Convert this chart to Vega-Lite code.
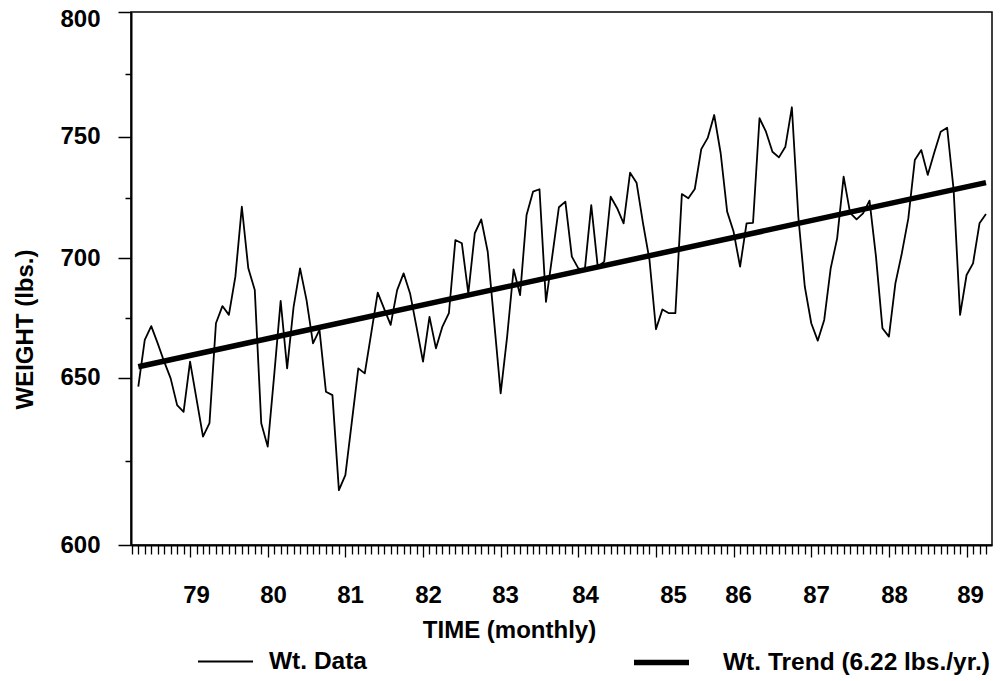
{
  "$schema": "https://vega.github.io/schema/vega-lite/v6.json",
  "width": 861,
  "height": 533,
  "autosize": {"type": "none"},
  "padding": {"left": 131, "top": 12, "right": 11, "bottom": 136},
  "background": "white",
  "config": {"view": {"stroke": "black", "strokeWidth": 1.5}, "font": "Liberation Sans"},
  "data": {"values": [
    {"month":0,"weight":647.3,"series":"Wt. Data"},{"month":1,"weight":665.8,"series":"Wt. Data"},{"month":2,"weight":671.6,"series":"Wt. Data"},{"month":3,"weight":664.4,"series":"Wt. Data"},{"month":4,"weight":656.7,"series":"Wt. Data"},{"month":5,"weight":649.8,"series":"Wt. Data"},{"month":6,"weight":641.8,"series":"Wt. Data"},{"month":7,"weight":639.8,"series":"Wt. Data"},{"month":8,"weight":656.7,"series":"Wt. Data"},{"month":9,"weight":643.6,"series":"Wt. Data"},
    {"month":10,"weight":632.4,"series":"Wt. Data"},{"month":11,"weight":636.4,"series":"Wt. Data"},{"month":12,"weight":672.8,"series":"Wt. Data"},{"month":13,"weight":680.0,"series":"Wt. Data"},{"month":14,"weight":676.3,"series":"Wt. Data"},{"month":15,"weight":692.3,"series":"Wt. Data"},{"month":16,"weight":721.2,"series":"Wt. Data"},{"month":17,"weight":695.8,"series":"Wt. Data"},{"month":18,"weight":686.7,"series":"Wt. Data"},{"month":19,"weight":636.4,"series":"Wt. Data"},
    {"month":20,"weight":629.4,"series":"Wt. Data"},{"month":21,"weight":651.1,"series":"Wt. Data"},{"month":22,"weight":682.2,"series":"Wt. Data"},{"month":23,"weight":653.9,"series":"Wt. Data"},{"month":24,"weight":679.7,"series":"Wt. Data"},{"month":25,"weight":695.8,"series":"Wt. Data"},{"month":26,"weight":682.5,"series":"Wt. Data"},{"month":27,"weight":664.4,"series":"Wt. Data"},{"month":28,"weight":670.0,"series":"Wt. Data"},{"month":29,"weight":645.8,"series":"Wt. Data"},
    {"month":30,"weight":644.8,"series":"Wt. Data"},{"month":31,"weight":616.4,"series":"Wt. Data"},{"month":32,"weight":620.9,"series":"Wt. Data"},{"month":33,"weight":636.8,"series":"Wt. Data"},{"month":34,"weight":653.9,"series":"Wt. Data"},{"month":35,"weight":651.8,"series":"Wt. Data"},{"month":36,"weight":668.7,"series":"Wt. Data"},{"month":37,"weight":685.6,"series":"Wt. Data"},{"month":38,"weight":678.8,"series":"Wt. Data"},{"month":39,"weight":672.1,"series":"Wt. Data"},
    {"month":40,"weight":686.7,"series":"Wt. Data"},{"month":41,"weight":693.7,"series":"Wt. Data"},{"month":42,"weight":685.3,"series":"Wt. Data"},{"month":43,"weight":671.2,"series":"Wt. Data"},{"month":44,"weight":656.7,"series":"Wt. Data"},{"month":45,"weight":675.5,"series":"Wt. Data"},{"month":46,"weight":662.3,"series":"Wt. Data"},{"month":47,"weight":671.4,"series":"Wt. Data"},{"month":48,"weight":677.0,"series":"Wt. Data"},{"month":49,"weight":707.5,"series":"Wt. Data"},
    {"month":50,"weight":706.2,"series":"Wt. Data"},{"month":51,"weight":685.3,"series":"Wt. Data"},{"month":52,"weight":710.3,"series":"Wt. Data"},{"month":53,"weight":716.0,"series":"Wt. Data"},{"month":54,"weight":702.7,"series":"Wt. Data"},{"month":55,"weight":673.3,"series":"Wt. Data"},{"month":56,"weight":645.3,"series":"Wt. Data"},{"month":57,"weight":667.2,"series":"Wt. Data"},{"month":58,"weight":695.4,"series":"Wt. Data"},{"month":59,"weight":684.6,"series":"Wt. Data"},
    {"month":60,"weight":717.8,"series":"Wt. Data"},{"month":61,"weight":727.4,"series":"Wt. Data"},{"month":62,"weight":728.4,"series":"Wt. Data"},{"month":63,"weight":681.8,"series":"Wt. Data"},{"month":64,"weight":701.4,"series":"Wt. Data"},{"month":65,"weight":721.0,"series":"Wt. Data"},{"month":66,"weight":723.3,"series":"Wt. Data"},{"month":67,"weight":700.7,"series":"Wt. Data"},{"month":68,"weight":695.8,"series":"Wt. Data"},{"month":69,"weight":695.1,"series":"Wt. Data"},
    {"month":70,"weight":721.9,"series":"Wt. Data"},{"month":71,"weight":696.5,"series":"Wt. Data"},{"month":72,"weight":698.6,"series":"Wt. Data"},{"month":73,"weight":725.3,"series":"Wt. Data"},{"month":74,"weight":720.6,"series":"Wt. Data"},{"month":75,"weight":714.4,"series":"Wt. Data"},{"month":76,"weight":735.2,"series":"Wt. Data"},{"month":77,"weight":731.1,"series":"Wt. Data"},{"month":78,"weight":714.4,"series":"Wt. Data"},{"month":79,"weight":699.3,"series":"Wt. Data"},
    {"month":80,"weight":670.3,"series":"Wt. Data"},{"month":81,"weight":678.6,"series":"Wt. Data"},{"month":82,"weight":677.0,"series":"Wt. Data"},{"month":83,"weight":677.0,"series":"Wt. Data"},{"month":84,"weight":726.4,"series":"Wt. Data"},{"month":85,"weight":724.7,"series":"Wt. Data"},{"month":86,"weight":728.5,"series":"Wt. Data"},{"month":87,"weight":744.9,"series":"Wt. Data"},{"month":88,"weight":749.5,"series":"Wt. Data"},{"month":89,"weight":758.7,"series":"Wt. Data"},
    {"month":90,"weight":743.2,"series":"Wt. Data"},{"month":91,"weight":719.2,"series":"Wt. Data"},{"month":92,"weight":710.9,"series":"Wt. Data"},{"month":93,"weight":696.5,"series":"Wt. Data"},{"month":94,"weight":714.4,"series":"Wt. Data"},{"month":95,"weight":714.6,"series":"Wt. Data"},{"month":96,"weight":757.4,"series":"Wt. Data"},{"month":97,"weight":752.0,"series":"Wt. Data"},{"month":98,"weight":743.8,"series":"Wt. Data"},{"month":99,"weight":741.5,"series":"Wt. Data"},
    {"month":100,"weight":745.9,"series":"Wt. Data"},{"month":101,"weight":761.8,"series":"Wt. Data"},{"month":102,"weight":717.1,"series":"Wt. Data"},{"month":103,"weight":688.1,"series":"Wt. Data"},{"month":104,"weight":672.8,"series":"Wt. Data"},{"month":105,"weight":665.5,"series":"Wt. Data"},{"month":106,"weight":674.2,"series":"Wt. Data"},{"month":107,"weight":695.8,"series":"Wt. Data"},{"month":108,"weight":708.2,"series":"Wt. Data"},{"month":109,"weight":733.6,"series":"Wt. Data"},
    {"month":110,"weight":718.7,"series":"Wt. Data"},{"month":111,"weight":716.0,"series":"Wt. Data"},{"month":112,"weight":718.5,"series":"Wt. Data"},{"month":113,"weight":723.7,"series":"Wt. Data"},{"month":114,"weight":700.7,"series":"Wt. Data"},{"month":115,"weight":670.7,"series":"Wt. Data"},{"month":116,"weight":667.2,"series":"Wt. Data"},{"month":117,"weight":689.5,"series":"Wt. Data"},{"month":118,"weight":702.1,"series":"Wt. Data"},{"month":119,"weight":716.4,"series":"Wt. Data"},
    {"month":120,"weight":740.4,"series":"Wt. Data"},{"month":121,"weight":744.5,"series":"Wt. Data"},{"month":122,"weight":734.3,"series":"Wt. Data"},{"month":123,"weight":743.4,"series":"Wt. Data"},{"month":124,"weight":752.0,"series":"Wt. Data"},{"month":125,"weight":753.6,"series":"Wt. Data"},{"month":126,"weight":728.1,"series":"Wt. Data"},{"month":127,"weight":676.3,"series":"Wt. Data"},{"month":128,"weight":693.0,"series":"Wt. Data"},{"month":129,"weight":697.9,"series":"Wt. Data"},
    {"month":130,"weight":714.4,"series":"Wt. Data"},{"month":131,"weight":718.2,"series":"Wt. Data"},
    {"month":0,"weight":654.6,"series":"Wt. Trend (6.22 lbs./yr.)"},{"month":131,"weight":731.1,"series":"Wt. Trend (6.22 lbs./yr.)"}
  ]},
  "mark": {"type": "line", "color": "black", "strokeJoin": "round"},
  "encoding": {
    "x": {
      "field": "month", "type": "quantitative",
      "scale": {"domain": [-1.128, 131.93], "nice": false, "zero": false},
      "axis": {
        "title": "TIME (monthly)",
        "values": [-1,0,1,2,3,4,5,6,7,8,9,10,11,12,13,14,15,16,17,18,19,20,21,22,23,24,25,26,27,28,29,30,31,32,33,34,35,36,37,38,39,40,41,42,43,44,45,46,47,48,49,50,51,52,53,54,55,56,57,58,59,60,61,62,63,64,65,66,67,68,69,70,71,72,73,74,75,76,77,78,79,80,81,82,83,84,85,86,87,88,89,90,91,92,93,94,95,96,97,98,99,100,101,102,103,104,105,106,107,108,109,110,111,112,113,114,115,116,117,118,119,120,121,122,123,124,125,126,127,128,129,130,131,8.92,20.82,32.73,44.77,56.67,69.05,82.63,92.68,104.73,116.79,128.53],
        "labelExpr": "datum.value % 1 == 0 ? '' : toString(floor((datum.value + 6) / 12) + 78)",
        "tickSize": {"condition": {"test": "datum.value % 1 == 0 && (datum.value - 8) % 12 == 0", "value": 12}, "value": 9},
        "tickOpacity": {"condition": {"test": "datum.value % 1 != 0", "value": 0}, "value": 1},
        "tickColor": "black", "tickWidth": 1.3,
        "domainColor": "black", "domainWidth": 2,
        "grid": false,
        "labelPadding": 29, "labelFontSize": 24, "labelFontWeight": "bold", "labelColor": "black", "labelFont": "Liberation Sans",
        "labelOverlap": false, "labelFlush": false, "labelBound": false,
        "titleFont": "Liberation Sans", "titleFontSize": 24, "titleFontWeight": "bold", "titleColor": "black",
        "titleX": 378, "titleY": 92, "titleBaseline": "alphabetic", "titleAlign": "center"
      }
    },
    "y": {
      "field": "weight", "type": "quantitative",
      "scale": {"domain": [600, 650, 700, 750, 800], "range": [533, 365.7, 246.3, 124.7, 0], "nice": false, "zero": false},
      "axis": {
        "title": "WEIGHT (lbs.)",
        "values": [600, 625, 650, 675, 700, 725, 750, 775, 800],
        "labelExpr": "datum.value % 50 == 0 ? datum.label : ''",
        "labelOffset": {"condition": {"test": "datum.value == 800", "value": 7}, "value": 0},
        "tickSize": {"condition": {"test": "datum.value % 50 == 0", "value": 13}, "value": 6},
        "tickColor": "black", "tickWidth": 1.5,
        "domainColor": "black", "domainWidth": 2,
        "grid": false,
        "labelPadding": 18, "labelFontSize": 24, "labelFontWeight": "bold", "labelColor": "black", "labelFont": "Liberation Sans",
        "labelOverlap": false, "labelFlush": false, "labelBound": false,
        "titleFont": "Liberation Sans", "titleFontSize": 24, "titleFontWeight": "bold", "titleColor": "black",
        "titleX": -99, "titleY": 317, "titleAngle": 270, "titleBaseline": "alphabetic", "titleAlign": "center"
      }
    },
    "strokeWidth": {
      "field": "series", "type": "nominal",
      "scale": {"domain": ["Wt. Data", "Wt. Trend (6.22 lbs./yr.)"], "range": [1.8, 5.5]},
      "legend": {
        "title": null, "orient": "none", "legendX": 66, "legendY": 620,
        "direction": "horizontal", "symbolType": "stroke", "symbolSize": 3025,
        "symbolStrokeColor": "black", "padding": 0,
        "labelFont": "Liberation Sans", "labelFontSize": 24.5, "labelFontWeight": "bold", "labelColor": "black",
        "labelOffset": 15, "columnPadding": 256, "labelLimit": 500,
        "encode": {"labels": {"update": {"dx": {"signal": "datum.index == 1 ? 16 : 0"}}}}
      }
    }
  }
}
